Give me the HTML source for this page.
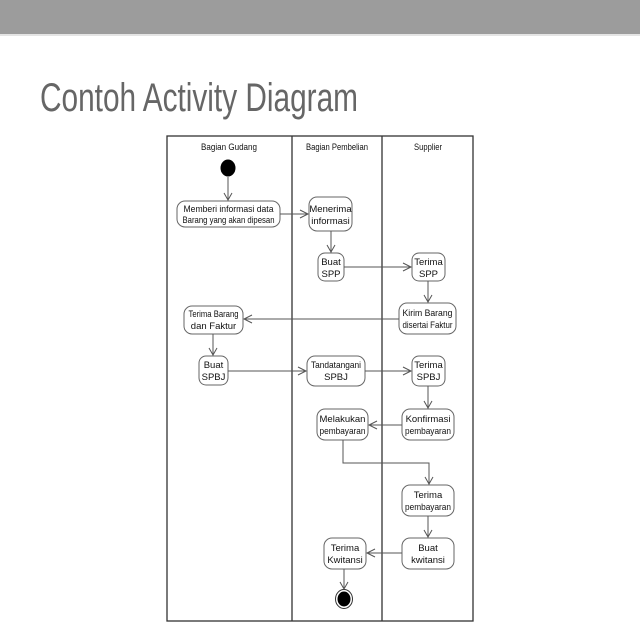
<!DOCTYPE html>
<html><head><meta charset="utf-8"><style>
html,body{margin:0;padding:0;background:#fff;}
svg{display:block;}
text{font-family:"Liberation Sans",sans-serif;}
</style></head><body>
<svg width="640" height="640" viewBox="0 0 640 640" xmlns="http://www.w3.org/2000/svg">
<rect x="0" y="0" width="640" height="34" fill="#9c9c9c"/>
<rect x="0" y="34" width="640" height="2" fill="#e4e4e4"/>
<text x="40" y="111" font-size="40" fill="#666" textLength="318" lengthAdjust="spacingAndGlyphs">Contoh Activity Diagram</text>

<g stroke="#333" stroke-width="1.3" fill="none">
<rect x="167" y="136" width="306" height="485"/>
<line x1="292" y1="136" x2="292" y2="621"/>
<line x1="382" y1="136" x2="382" y2="621"/>
</g>
<g font-size="9" fill="#111" text-anchor="middle">
<text x="229" y="150" textLength="56" lengthAdjust="spacingAndGlyphs">Bagian Gudang</text>
<text x="337" y="150" textLength="62" lengthAdjust="spacingAndGlyphs">Bagian Pembelian</text>
<text x="428" y="150" textLength="28" lengthAdjust="spacingAndGlyphs">Supplier</text>
</g>

<ellipse cx="228" cy="168" rx="7.5" ry="8.5" fill="#000"/>
<ellipse cx="344" cy="599" rx="8.5" ry="9.5" fill="#fff" stroke="#333" stroke-width="1"/>
<ellipse cx="344" cy="599" rx="6.5" ry="7.5" fill="#000"/>

<g stroke="#666" stroke-width="1" fill="#fff">
<rect x="177" y="201" width="103" height="26" rx="8"/>
<rect x="309" y="197" width="43" height="34" rx="8"/>
<rect x="318" y="253" width="26" height="28" rx="7"/>
<rect x="412" y="253" width="33" height="28" rx="7"/>
<rect x="399" y="303" width="57" height="31" rx="8"/>
<rect x="184" y="306" width="59" height="28" rx="8"/>
<rect x="199" y="356" width="29" height="29" rx="7"/>
<rect x="307" y="356" width="58" height="30" rx="8"/>
<rect x="412" y="356" width="33" height="30" rx="7"/>
<rect x="402" y="409" width="52" height="31" rx="8"/>
<rect x="317" y="409" width="51" height="31" rx="8"/>
<rect x="402" y="485" width="52" height="31" rx="8"/>
<rect x="402" y="538" width="52" height="31" rx="8"/>
<rect x="324" y="538" width="42" height="31" rx="8"/>
</g>

<g font-size="9.5" fill="#111" text-anchor="middle" lengthAdjust="spacingAndGlyphs">
<text x="228.5" y="212" textLength="90" lengthAdjust="spacingAndGlyphs">Memberi informasi data</text>
<text x="228.5" y="223" textLength="92" lengthAdjust="spacingAndGlyphs">Barang yang akan dipesan</text>
<text x="330.5" y="212">Menerima</text>
<text x="330.5" y="224">informasi</text>
<text x="331" y="265">Buat</text>
<text x="331" y="277">SPP</text>
<text x="428.5" y="265">Terima</text>
<text x="428.5" y="277">SPP</text>
<text x="427.5" y="316" textLength="50" lengthAdjust="spacingAndGlyphs">Kirim Barang</text>
<text x="427.5" y="328" textLength="50" lengthAdjust="spacingAndGlyphs">disertai Faktur</text>
<text x="213.5" y="317" textLength="50" lengthAdjust="spacingAndGlyphs">Terima Barang</text>
<text x="213.5" y="329">dan Faktur</text>
<text x="213.5" y="368">Buat</text>
<text x="213.5" y="380">SPBJ</text>
<text x="336" y="368" textLength="50" lengthAdjust="spacingAndGlyphs">Tandatangani</text>
<text x="336" y="380">SPBJ</text>
<text x="428.5" y="368">Terima</text>
<text x="428.5" y="380">SPBJ</text>
<text x="428" y="422">Konfirmasi</text>
<text x="428" y="434" textLength="46" lengthAdjust="spacingAndGlyphs">pembayaran</text>
<text x="342.5" y="422">Melakukan</text>
<text x="342.5" y="434" textLength="46" lengthAdjust="spacingAndGlyphs">pembayaran</text>
<text x="428" y="498">Terima</text>
<text x="428" y="510" textLength="46" lengthAdjust="spacingAndGlyphs">pembayaran</text>
<text x="428" y="551">Buat</text>
<text x="428" y="563">kwitansi</text>
<text x="345" y="551">Terima</text>
<text x="345" y="563">Kwitansi</text>
</g>

<g stroke="#555" stroke-width="1" fill="none">
<line x1="228" y1="177" x2="228" y2="201"/><polyline points="224,193 228,200 232,193"/>
<line x1="280" y1="214" x2="308" y2="214"/><polyline points="300,210 308,214 300,218"/>
<line x1="331" y1="231" x2="331" y2="253"/><polyline points="327,245 331,252 335,245"/>
<line x1="344" y1="267" x2="411" y2="267"/><polyline points="403,263 411,267 403,271"/>
<line x1="428" y1="281" x2="428" y2="303"/><polyline points="424,295 428,302 432,295"/>
<line x1="399" y1="319" x2="244" y2="319"/><polyline points="252,315 244,319 252,323"/>
<line x1="213" y1="334" x2="213" y2="356"/><polyline points="209,348 213,355 217,348"/>
<line x1="228" y1="371" x2="306" y2="371"/><polyline points="298,367 306,371 298,375"/>
<line x1="365" y1="371" x2="411" y2="371"/><polyline points="403,367 411,371 403,375"/>
<line x1="428" y1="386" x2="428" y2="409"/><polyline points="424,401 428,408 432,401"/>
<line x1="402" y1="425" x2="369" y2="425"/><polyline points="377,421 369,425 377,429"/>
<polyline points="343,440 343,463 429,463 429,485"/><polyline points="425,477 429,484 433,477"/>
<line x1="428" y1="516" x2="428" y2="538"/><polyline points="424,530 428,537 432,530"/>
<line x1="402" y1="553" x2="367" y2="553"/><polyline points="375,549 367,553 375,557"/>
<line x1="344" y1="569" x2="344" y2="589"/><polyline points="340,582 344,589 348,582"/>
</g>
</svg>
</body></html>
